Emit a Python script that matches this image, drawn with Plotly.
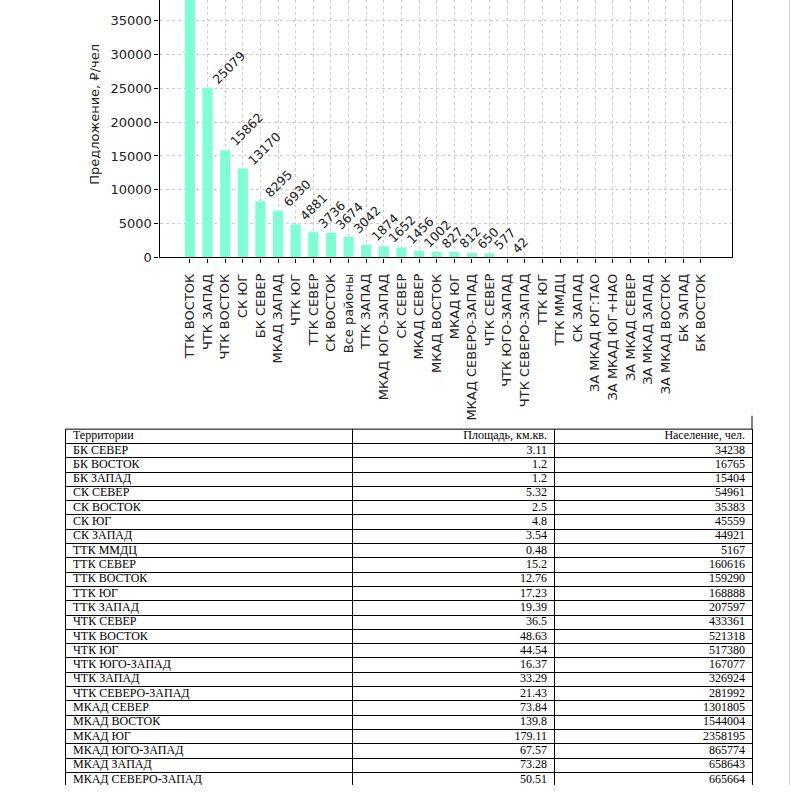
import plotly.graph_objects as go

W, H = 791, 793

categories = ["ТТК ВОСТОК", "ЧТК ЗАПАД", "ЧТК ВОСТОК", "СК ЮГ", "БК СЕВЕР", "МКАД ЗАПАД",
              "ЧТК ЮГ", "ТТК СЕВЕР", "СК ВОСТОК", "Все районы", "ТТК ЗАПАД", "МКАД ЮГО-ЗАПАД",
              "СК СЕВЕР", "МКАД СЕВЕР", "МКАД ВОСТОК", "МКАД ЮГ", "МКАД СЕВЕРО-ЗАПАД", "ЧТК СЕВЕР",
              "ЧТК ЮГО-ЗАПАД", "ЧТК СЕВЕРО-ЗАПАД", "ТТК ЮГ", "ТТК ММДЦ", "СК ЗАПАД",
              "ЗА МКАД ЮГ:ТАО", "ЗА МКАД ЮГ+НАО", "ЗА МКАД СЕВЕР", "ЗА МКАД ЗАПАД",
              "ЗА МКАД ВОСТОК", "БК ЗАПАД", "БК ВОСТОК"]
offer_per_person = [40040, 25079, 15862, 13170, 8295, 6930, 4881, 3736, 3674, 3042, 1874, 1652,
                    1456, 1002, 827, 812, 650, 577, 42, 0, 0, 0, 0, 0, 0, 0, 0, 0, 0, 0]

table_header = ["Территории", "Площадь, км.кв.", "Население, чел."]
territories = ["БК СЕВЕР", "БК ВОСТОК", "БК ЗАПАД", "СК СЕВЕР", "СК ВОСТОК", "СК ЮГ", "СК ЗАПАД",
               "ТТК ММДЦ", "ТТК СЕВЕР", "ТТК ВОСТОК", "ТТК ЮГ", "ТТК ЗАПАД", "ЧТК СЕВЕР",
               "ЧТК ВОСТОК", "ЧТК ЮГ", "ЧТК ЮГО-ЗАПАД", "ЧТК ЗАПАД", "ЧТК СЕВЕРО-ЗАПАД",
               "МКАД СЕВЕР", "МКАД ВОСТОК", "МКАД ЮГ", "МКАД ЮГО-ЗАПАД", "МКАД ЗАПАД",
               "МКАД СЕВЕРО-ЗАПАД"]
areas = ["3.11", "1.2", "1.2", "5.32", "2.5", "4.8", "3.54", "0.48", "15.2", "12.76", "17.23",
         "19.39", "36.5", "48.63", "44.54", "16.37", "33.29", "21.43", "73.84", "139.8",
         "179.11", "67.57", "73.28", "50.51"]
population = [34238, 16765, 15404, 54961, 35383, 45559, 44921, 5167, 160616, 159290, 168888,
              207597, 433361, 521318, 517380, 167077, 326924, 281992, 1301805, 1544004,
              2358195, 865774, 658643, 665664]

SANS = "DejaVu Sans"
SERIF = "Liberation Serif"

fig = go.Figure()

# ---------------- bar chart ----------------
fig.add_trace(go.Bar(x=categories, y=offer_per_person, marker_color="#7FFFD4",
                     marker_line_width=0, width=0.58, hoverinfo="skip",
                     xaxis="x", yaxis="y"))

for c, v in zip(categories, offer_per_person):
    if v > 0:
        fig.add_annotation(x=c, y=v, xref="x", yref="y", text=str(v), textangle=-45,
                           showarrow=False, xanchor="left", yanchor="bottom",
                           xshift=-1, yshift=-2,
                           font=dict(family=SANS, size=12.5, color="#222"))

fig.add_annotation(x=95 / W, y=1 - 116 / H, xref="paper", yref="paper",
                   text="Предложение, ₽/чел", textangle=-90, showarrow=False,
                   xanchor="center", yanchor="middle",
                   font=dict(family=SANS, size=13, color="#222"))

# ---------------- table (text cells on their own axes) ----------------
ROW_H = 14.45
TABLE_TOP = 433.5
col_edges = [66, 352, 554, 752]
n_rows = len(territories) + 1
row_centers = [i + 0.5 for i in range(n_rows)]
col_text = [[table_header[0]] + territories,
            [table_header[1]] + areas,
            [table_header[2]] + [str(p) for p in population]]
col_x = [col_edges[0] + 7, col_edges[2] - 7, col_edges[3] - 7]
col_pos = ["middle right", "middle left", "middle left"]
for texts, x, pos in zip(col_text, col_x, col_pos):
    fig.add_trace(go.Scatter(x=[x] * n_rows, y=row_centers, text=texts, mode="text",
                             textposition=pos, hoverinfo="skip", cliponaxis=True,
                             textfont=dict(family=SERIF, size=12, color="black"),
                             xaxis="x2", yaxis="y2"))

y2_bottom = (H - TABLE_TOP) / ROW_H

fig.update_layout(
    width=W, height=H, margin=dict(l=0, r=0, t=0, b=0),
    paper_bgcolor="white", plot_bgcolor="white", showlegend=False,
    xaxis=dict(domain=[159.5 / W, 732 / W], type="category", range=[-1.73, 30.76],
               tickangle=-90, ticks="outside", ticklen=4, tickcolor="black",
               ticklabelstandoff=6,
               showgrid=True, gridcolor="#cfcfcf", griddash="dot", gridwidth=1,
               showline=True, linecolor="black", linewidth=1.3, mirror=False,
               tickfont=dict(family=SANS, size=13, color="#222")),
    yaxis=dict(domain=[(H - 260) / H, 1], range=[0, 38070], dtick=5000, tickformat="d",
               ticks="outside", ticklen=4, tickcolor="black",
               showgrid=True, gridcolor="#cfcfcf", griddash="dot", gridwidth=1,
               zeroline=False, showline=True, linecolor="black", linewidth=1.3, mirror=True,
               tickfont=dict(family=SANS, size=13, color="#222")),
    xaxis2=dict(domain=[col_edges[0] / W, col_edges[3] / W],
                range=[col_edges[0], col_edges[3]], anchor="y2",
                tickvals=col_edges[1:3], showticklabels=False, ticks="",
                showgrid=True, gridcolor="black", gridwidth=1, zeroline=False,
                showline=False, fixedrange=True),
    yaxis2=dict(domain=[0, 1 - TABLE_TOP / H], range=[y2_bottom, 0], anchor="x2",
                tickvals=list(range(1, n_rows + 1)), showticklabels=False, ticks="",
                showgrid=True, gridcolor="black", gridwidth=1, zeroline=False,
                showline=True, mirror=True, linecolor="black", linewidth=1,
                fixedrange=True),
    shapes=[
        # table top border
        dict(type="line", xref="paper", yref="paper", x0=col_edges[0] / W, x1=col_edges[3] / W,
             y0=1 - TABLE_TOP / H, y1=1 - TABLE_TOP / H, line=dict(color="black", width=1)),
        # stub of the right border above the table
        dict(type="line", xref="paper", yref="paper", x0=col_edges[3] / W, x1=col_edges[3] / W,
             y0=1 - 420 / H, y1=1 - TABLE_TOP / H, line=dict(color="black", width=1)),
        # faint page edge
        dict(type="line", xref="paper", yref="paper", x0=789.5 / W, x1=789.5 / W,
             y0=0, y1=1, line=dict(color="#d8d8d8", width=1)),
    ],
)

fig.write_html("out.html", config={"displayModeBar": False},
               post_script="document.body.style.margin='0';")
